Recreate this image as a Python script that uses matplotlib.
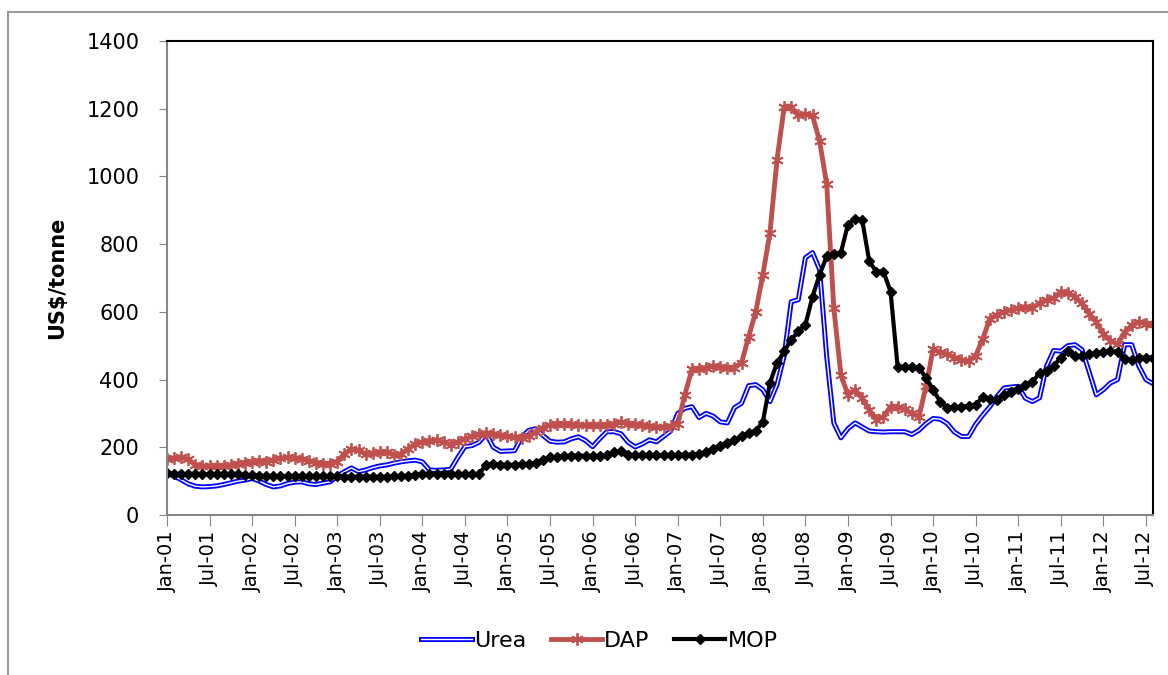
import matplotlib
matplotlib.use("Agg")
import matplotlib.pyplot as plt
import matplotlib.patheffects as pe
from matplotlib.patches import Rectangle
import numpy as np

# monthly prices, Jan-01 .. Aug-12 (US$/tonne)
urea = [124, 115, 104, 92, 85, 83, 84, 86, 90, 95, 100, 103,
        108, 100, 90, 83, 86, 93, 97, 98, 92, 90, 94, 98,
        115, 128, 139, 128, 133, 140, 145, 148, 153, 157, 160, 162,
        157, 133, 132, 133, 135, 170, 202, 205, 215, 240, 200, 188,
        189, 190, 230, 250, 255, 235, 218, 215, 216, 225, 231, 220,
        202, 225, 246, 246, 240, 215, 201, 210, 222, 216, 232, 248,
        300, 315, 320, 288, 300, 292, 275, 272, 317, 330, 382, 385,
        370, 335, 385, 470, 630, 636, 760, 775, 725, 468, 272, 228,
        255, 272, 260, 248, 246, 245, 246, 246, 246, 238, 250, 270,
        285, 283, 270, 245, 232, 232, 268, 295, 320, 350, 375, 378,
        380, 345, 335, 346, 440, 486, 484, 500, 503, 488, 423, 355,
        370, 390, 400, 503, 503, 440, 400, 388]

dap = [165, 168, 170, 165, 148, 145, 145, 145, 145, 148, 152, 155,
       158, 160, 158, 162, 168, 170, 168, 165, 160, 155, 152, 152,
       158, 180, 195, 192, 180, 182, 185, 185, 178, 180, 195, 210,
       215, 220, 222, 215, 208, 215, 225, 232, 238, 242, 240, 235,
       232, 230, 228, 232, 245, 258, 265, 270, 268, 268, 266, 265,
       265, 265, 265, 270, 275, 270, 268, 265, 262, 260, 260, 262,
       268, 355, 430, 430, 435, 440, 438, 435, 435, 450, 527, 600,
       710, 834, 1050, 1204, 1204, 1180, 1184, 1180, 1104, 977, 612, 414,
       355, 370, 345, 310, 282, 290, 320, 320, 312, 300, 290, 380,
       490, 480, 475, 465, 458, 455, 470, 520, 580, 590, 600, 605,
       610, 615, 612, 625, 635, 640, 660, 655, 645, 625, 595, 570,
       535, 515, 505, 540, 560, 570, 565, 565]

mop = [125, 122, 121, 120, 120, 120, 120, 120, 120, 120, 120, 118,
       117, 116, 115, 115, 115, 115, 115, 115, 114, 114, 114, 114,
       114, 113, 113, 113, 113, 113, 113, 113, 114, 115, 116, 118,
       120, 120, 120, 120, 120, 120, 120, 120, 122, 148, 150, 148,
       148, 148, 150, 150, 155, 162, 170, 172, 174, 175, 175, 175,
       175, 175, 176, 186, 188, 177, 176, 176, 176, 176, 177, 177,
       177, 178, 178, 180, 185, 195, 205, 212, 222, 232, 243, 248,
       275, 390, 450, 483, 518, 542, 562, 645, 710, 764, 770, 775,
       858, 875, 872, 749, 719, 719, 660, 438, 438, 438, 435, 405,
       370, 335, 317, 318, 320, 322, 326, 348, 342, 340, 355, 364,
       372, 385, 392, 420, 425, 440, 465, 483, 470, 470, 475, 478,
       480, 485, 482, 462, 458, 465, 465, 465]

tick_labels = ["Jan-01", "Jul-01", "Jan-02", "Jul-02", "Jan-03", "Jul-03",
               "Jan-04", "Jul-04", "Jan-05", "Jul-05", "Jan-06", "Jul-06",
               "Jan-07", "Jul-07", "Jan-08", "Jul-08", "Jan-09", "Jul-09",
               "Jan-10", "Jul-10", "Jan-11", "Jul-11", "Jan-12", "Jul-12"]

months = np.arange(len(urea))
grey = "#868686"

fig = plt.figure(figsize=(11.68, 6.75), dpi=100)
ax = fig.add_axes([167 / 1168, 1 - 515 / 675, (1153 - 167) / 1168, (515 - 41) / 675])

# outer chart frame (cropped on the right and bottom)
fig.patches.append(Rectangle((8 / 1168, -0.1), 1.2, 1 - 12 / 675 + 0.1,
                             transform=fig.transFigure, fill=False,
                             edgecolor="#9a9a9a", linewidth=1.5))

ax.plot(months, urea, color="white", linewidth=1.0, label="Urea",
        path_effects=[pe.Stroke(linewidth=3.6, foreground="#0000ff"), pe.Normal()])
ax.plot(months, dap, color="#c0504d", linewidth=3.5, marker=(6, 2, 0),
        markersize=9, markeredgewidth=1.3, label="DAP")
ax.plot(months, mop, color="black", linewidth=3.0, marker="D",
        markersize=5, label="MOP")

ax.set_xlim(0, len(urea) - 1)
ax.set_ylim(0, 1400)
ax.set_yticks(range(0, 1401, 200))
ax.set_xticks(range(0, 139, 6))
ax.set_xticklabels(tick_labels, rotation=90, fontsize=14)
ax.tick_params(axis="y", labelsize=15, length=6, color=grey, direction="out", pad=14)
ax.tick_params(axis="x", length=8, color=grey, direction="out", pad=3)

for s in ["left", "bottom"]:
    ax.spines[s].set_color(grey)
    ax.spines[s].set_linewidth(1.5)
for s in ["top", "right"]:
    ax.spines[s].set_color("black")
    ax.spines[s].set_linewidth(1.5)

ax.set_ylabel("US$/tonne", fontsize=15, fontweight="bold")
ax.yaxis.set_label_coords(-0.101, 0.5)

leg = fig.legend(loc="center", bbox_to_anchor=(0.513, 0.05), ncol=3,
                 frameon=False, fontsize=16, handlelength=2.3,
                 handletextpad=0.1, columnspacing=1.1)

fig.savefig("out.png", dpi=100)
